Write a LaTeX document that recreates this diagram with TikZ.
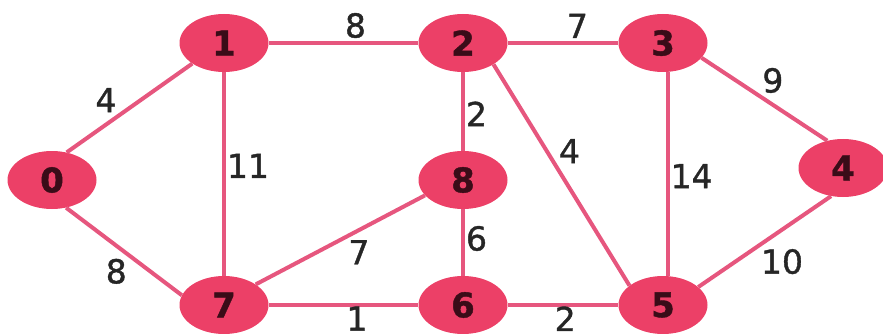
\documentclass[tikz,border=0pt]{standalone}
\usepackage{fontspec}
\setmainfont{DejaVu Sans}
\newfontfamily\wtfont[FakeBold=1.2]{DejaVu Sans}
\definecolor{gnode}{RGB}{236,64,103}
\definecolor{gedge}{RGB}{230,86,126}
\definecolor{gtext}{RGB}{58,12,24}
\usetikzlibrary{shapes.geometric}

\begin{document}
\begin{tikzpicture}[x=1pt,y=-1pt,
  vertex/.style={ellipse,fill=gnode,minimum width=89pt,minimum height=58pt,inner sep=0,
    font=\wtfont\bfseries\fontsize{34}{34}\selectfont,text=gtext},
  edge/.style={draw=gedge,line width=4pt},
  wt/.style={font=\wtfont\fontsize{33}{33}\selectfont,inner sep=1pt,text=black!85}]
  \useasboundingbox (0,0) rectangle (883,334);
  \node[vertex] (v0) at (52,180) {0};
  \node[vertex] (v1) at (224,43) {1};
  \node[vertex] (v2) at (463,43) {2};
  \node[vertex] (v3) at (663,43) {3};
  \node[vertex] (v4) at (843,168) {4};
  \node[vertex] (v5) at (663,305) {5};
  \node[vertex] (v6) at (463,305) {6};
  \node[vertex] (v7) at (224,305) {7};
  \node[vertex] (v8) at (463,180) {8};
  \draw[edge] (v0.62) -- (v1.213) node[wt,pos=.42,above left] {4};
  \draw[edge] (v0.-63) -- (v7.167) node[wt,pos=.55,below left] {8};
  \draw[edge] (v1.east) -- (v2.west) node[wt,pos=.58,above,yshift=2pt] {8};
  \draw[edge] (v1.south) -- (v7.north) node[wt,pos=.46,right] {11};
  \draw[edge] (v2.east) -- (v3.west) node[wt,pos=.63,above,yshift=2pt] {7};
  \draw[edge] (v2.south) -- (v8.north) node[wt,pos=.53,right] {2};
  \draw[edge] (v2.-35) -- (v5.150) node[wt,pos=.46,above right] {4};
  \draw[edge] (v3.-81) -- (v5.81) node[wt,pos=.51,right] {14};
  \draw[edge] (v3.-21) -- (v4.120) node[wt,pos=.46,above right] {9};
  \draw[edge] (v4.-113) -- (v5.27) node[wt,pos=.55,below right] {10};
  \draw[edge] (v7.33) -- (v8.202) node[wt,pos=.53,below right] {7};
  \draw[edge] (v8.south) -- (v6.north) node[wt,pos=.44,right] {6};
  \draw[edge] (v7.east) -- (v6.west) node[wt,pos=.59,below,yshift=1.5pt] {1};
  \draw[edge] (v6.east) -- (v5.west) node[wt,pos=.52,below,yshift=1.5pt] {2};
\end{tikzpicture}
\end{document}
